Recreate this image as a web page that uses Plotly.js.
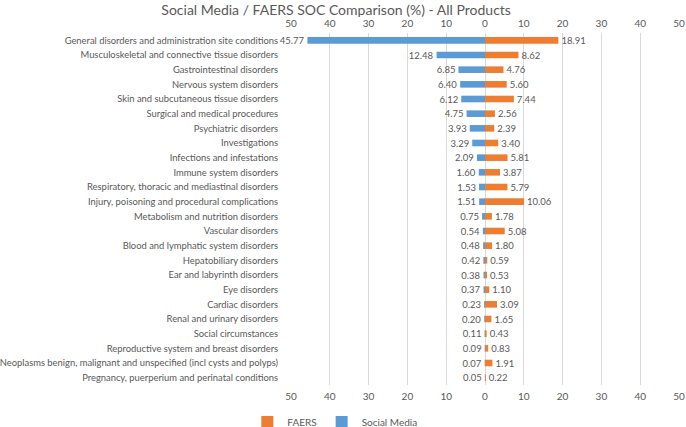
<!DOCTYPE html>
<html>
<head>
<meta charset="utf-8">
<script src="https://cdn.plot.ly/plotly-3.0.1.min.js"></script>
<style>html,body{margin:0;padding:0;background:#fff;}#chart{width:686px;height:427px;}</style>
</head>
<body>
<div id="chart"></div>
<script>
const categories = [
  "General disorders and administration site conditions",
  "Musculoskeletal and connective tissue disorders",
  "Gastrointestinal disorders",
  "Nervous system disorders",
  "Skin and subcutaneous tissue disorders",
  "Surgical and medical procedures",
  "Psychiatric disorders",
  "Investigations",
  "Infections and infestations",
  "Immune system disorders",
  "Respiratory, thoracic and mediastinal disorders",
  "Injury, poisoning and procedural complications",
  "Metabolism and nutrition disorders",
  "Vascular disorders",
  "Blood and lymphatic system disorders",
  "Hepatobiliary disorders",
  "Ear and labyrinth disorders",
  "Eye disorders",
  "Cardiac disorders",
  "Renal and urinary disorders",
  "Social circumstances",
  "Reproductive system and breast disorders",
  "Neoplasms benign, malignant and unspecified (incl cysts and polyps)",
  "Pregnancy, puerperium and perinatal conditions"
];
const socialMedia = [45.77,12.48,6.85,6.40,6.12,4.75,3.93,3.29,2.09,1.60,1.53,1.51,0.75,0.54,0.48,0.42,0.38,0.37,0.23,0.20,0.11,0.09,0.07,0.05];
const faers = [18.91,8.62,4.76,5.60,7.44,2.56,2.39,3.40,5.81,3.87,5.79,10.06,1.78,5.08,1.80,0.59,0.53,1.10,3.09,1.65,0.43,0.83,1.91,0.22];
const tickValues = [-50,-40,-30,-20,-10,0,10,20,30,40,50];
const tickLabels = ["50","40","30","20","10","0","10","20","30","40","50"];

const FONT = "Lato, 'Open Sans', sans-serif";
const GREY = "#595959";

const traces = [
  {
    type: "bar", orientation: "h", name: "Social Media",
    y: categories, x: socialMedia.map(v => -v),
    text: socialMedia.map(v => v.toFixed(2)),
    textposition: "outside", cliponaxis: false, constraintext: "none",
    textfont: {family: FONT, size: 9.5, color: GREY},
    marker: {color: "#5B9BD5"}, width: 0.45, legendrank: 2,
    hoverinfo: "skip"
  },
  {
    type: "bar", orientation: "h", name: "FAERS",
    y: categories, x: faers,
    text: faers.map(v => v.toFixed(2)),
    textposition: "outside", cliponaxis: false, constraintext: "none",
    textfont: {family: FONT, size: 9.5, color: GREY},
    marker: {color: "#ED7D31"}, width: 0.45, legendrank: 1,
    hoverinfo: "skip"
  },
  {
    type: "scatter", mode: "none", x: [-50, 50], y: [categories[0], categories[0]],
    xaxis: "x2", yaxis: "y", showlegend: false, hoverinfo: "skip"
  }
];

const axisCommon = {
  range: [-50, 50], tickmode: "array", tickvals: tickValues, ticktext: tickLabels,
  tickfont: {family: FONT, size: 10, color: GREY}, fixedrange: true, automargin: false
};

const layout = {
  width: 686, height: 427,
  margin: {l: 291, r: 7, t: 33, b: 42, autoexpand: false},
  paper_bgcolor: "#fff", plot_bgcolor: "#fff",
  font: {family: FONT, color: GREY},
  title: {text: "Social Media / FAERS SOC Comparison (%) - All Products",
          font: {family: FONT, size: 14, color: GREY},
          x: 0.49, xanchor: "center", yref: "container", y: 0.977, yanchor: "middle", automargin: false},
  barmode: "relative",
  showlegend: true,
  legend: {orientation: "h", xref: "paper", x: 0.113, xanchor: "center",
           yref: "container", y: 0.012, yanchor: "middle",
           font: {family: FONT, size: 10, color: GREY}, itemwidth: 30},
  xaxis: Object.assign({}, axisCommon, {
    showgrid: true, gridcolor: "#D9D9D9", gridwidth: 1, zeroline: false,
    showline: false, ticks: "", ticklen: 0, ticklabelstandoff: 4
  }),
  xaxis2: Object.assign({}, axisCommon, {
    overlaying: "x", side: "top", matches: "x", showgrid: false, zeroline: false,
    showline: false, ticks: "", ticklabelstandoff: 3
  }),
  yaxis: {
    type: "category", range: [categories.length - 0.5, -0.5], autorange: false,
    showgrid: false, zeroline: false, showline: false,
    ticks: "outside", ticklen: 10, tickcolor: "rgba(0,0,0,0)", automargin: false,
    tickfont: {family: FONT, size: 9.4, color: GREY}, fixedrange: true
  }
};

Plotly.newPlot("chart", traces, layout, {displayModeBar: false, staticPlot: true});
</script>
</body>
</html>
